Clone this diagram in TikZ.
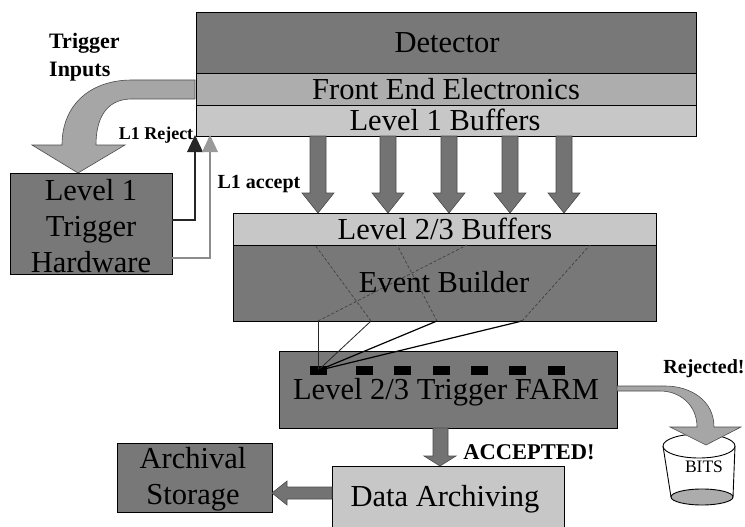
\documentclass[tikz,border=0pt]{standalone}
\usepackage{fontspec}
\setmainfont{Liberation Serif}
\definecolor{dark}{gray}{0.47}
\definecolor{mid}{gray}{0.68}
\definecolor{lite}{gray}{0.78}
\definecolor{arrowgray}{gray}{0.45}
\tikzset{
  x=1pt,y=-1pt,
  box/.style={draw=black,line width=1pt,anchor=north west,inner sep=0pt},
  darkbox/.style={box,fill=dark},
  midbox/.style={box,fill=mid},
  litebox/.style={box,fill=lite},
  title/.style={font=\fontsize{30.5}{36}\selectfont,inner sep=0pt,align=center},
  bigarrow/.style={fill=arrowgray,draw=black!70,line width=0.6pt},
  curvearrow/.style={fill=gray!70,draw=black!70,line width=0.6pt},
  wire/.style={draw=black!85,line width=0.8pt},
  thickwire/.style={draw=black,line width=1.2pt},
  dashwire/.style={draw=black!75,line width=0.7pt,densely dashed},
  slot/.style={fill=black,draw=none,minimum width=17pt,minimum height=9pt,inner sep=0pt},
  lab/.style={font=\bfseries\fontsize{#1}{#1}\selectfont,inner sep=0pt,align=left}
}
\newcommand{\downarr}[4]{%
  \draw[bigarrow] (#1-8,#2) -- (#1+8,#2) -- (#1+8,#3) -- (#1+16,#3) -- (#1,#4) -- (#1-16,#3) -- (#1-8,#3) -- cycle;}
\begin{document}
\begin{tikzpicture}
\useasboundingbox (0,0) rectangle (745,527);
\fill[white] (0,0) rectangle (745,527);
% detector stack
\node[darkbox,minimum width=500pt,minimum height=61pt] (det) at (196,12) {};
\node[midbox,minimum width=500pt,minimum height=32pt] (fe) at (196,73) {};
\node[litebox,minimum width=500pt,minimum height=31pt] (l1b) at (196,105) {};
% L2/3 stack
\node[litebox,minimum width=423pt,minimum height=32pt] (l2b) at (233,213) {};
\node[darkbox,minimum width=423pt,minimum height=76pt] (eb) at (233,245) {};
% L1 trigger
\node[darkbox,minimum width=162pt,minimum height=101pt] (trig) at (10,173) {};
% farm
\node[darkbox,minimum width=338pt,minimum height=77pt] (farm) at (279,351) {};
% archive
\node[darkbox,minimum width=155pt,minimum height=69pt] (arch) at (117,443) {};
\node[box,fill=lite,minimum width=232pt,minimum height=70pt] (da) at (332,466) {};
% down arrows
\downarr{318}{136}{193}{213}
\downarr{388}{136}{193}{213}
\downarr{449}{136}{193}{213}
\downarr{510}{136}{193}{213}
\downarr{564}{136}{193}{213}
\draw[bigarrow] (433,428) -- (448,428) -- (448,456) -- (456,456) -- (440,466) -- (424,456) -- (433,456) -- cycle;
\draw[bigarrow] (332,487) -- (287,487) -- (287,481) -- (272,493) -- (287,505) -- (287,499) -- (332,499) -- cycle;
% trigger inputs arrow
\draw[curvearrow] (195,80) -- (132,80) .. controls (90,80) and (62,105) .. (62,145) -- (32,145) -- (78,173) -- (125,145) -- (96,145) .. controls (96,120) and (105,100) .. (130,99) -- (195,99) -- cycle;
% bucket
\draw[line width=0.9pt,fill=white] (663,446) -- (671,497) -- (733,497) -- (735,446);
\draw[line width=0.9pt,fill=white] (699,446) ellipse [x radius=36,y radius=12];
\draw[line width=0.9pt,fill=gray!65] (702,497) ellipse [x radius=31,y radius=8];
% rejected arrow
\draw[curvearrow] (617,386) -- (665,386) .. controls (690,386) and (714,400) .. (714,427) -- (741,427) -- (706,445) -- (670,427) -- (697,427) .. controls (697,405) and (680,391) .. (660,391) -- (617,391) -- cycle;
% L1 lines
\coordinate (rejA) at (172,220);
\coordinate (rejB) at (195,220);
\coordinate (rejC) at (195,135);
\coordinate (accA) at (172,258);
\coordinate (accB) at (210,258);
\coordinate (accC) at (210,135);
\draw[line width=2.2pt,draw=black!85] (rejA) -- (rejB) -- (195,150);
\fill[black!85] (rejC) -- (203,152) -- (187,152) -- cycle;
\draw[line width=1.6pt,draw=black!45] (accA) -- (accB) -- (210,150);
\fill[black!40] (accC) -- (218,152) -- (202,152) -- cycle;
% farm slots
\foreach \n/\x in {s1/318,s2/364,s3/402,s4/441,s5/479,s6/517,s7/556}{\node[slot] (\n) at (\x,370.5) {};}
% event builder to farm
\coordinate (w1) at (318,321);
\coordinate (w2) at (371,321);
\coordinate (w3) at (437,321);
\coordinate (w4) at (522,321);
\draw[wire] (s1.center) -- (w1);
\draw[wire] (s1.center) -- (w2);
\draw[thickwire] (s1.center) -- (w3);
\draw[thickwire] (s1.center) -- (w4);
\draw[dashwire] (w1) -- (467,245);
\draw[dashwire] (w2) -- (315,245);
\draw[dashwire] (w3) -- (397,245);
\draw[dashwire] (w4) -- (590,245);
% box titles
\node[title] (dett) at (447,43) {Detector};
\node[title] (fet) at (446,89) {Front End Electronics};
\node[title] (l1t) at (445,120) {Level 1 Buffers};
\node[title] (l2t) at (445,229) {Level 2/3 Buffers};
\node[title] (ebt) at (444,282) {Event Builder};
\node[title] (trigt) at (91,226) {Level 1\\Trigger\\Hardware};
\node[title] (farmt) at (446,392) {Level 2/3 Trigger FARM};
\node[title] (archt) at (193,479) {Archival\\Storage};
\node[title] (dat) at (445,499) {Data Archiving};
% labels
\node[lab=22,anchor=west] (ti) at (49,57) {Trigger\\[6pt]Inputs};
\node[lab=18] (lr) at (156,135) {L1 Reject};
\node[lab=20] (la) at (259,184) {L1 accept};
\node[lab=22.5] (acc) at (529,452) {ACCEPTED!};
\node[lab=20] (rej) at (704,369) {Rejected!};
\node[font=\fontsize{17.5}{18}\selectfont,inner sep=0pt] (bits) at (704,467) {BITS};
\end{tikzpicture}
\end{document}
